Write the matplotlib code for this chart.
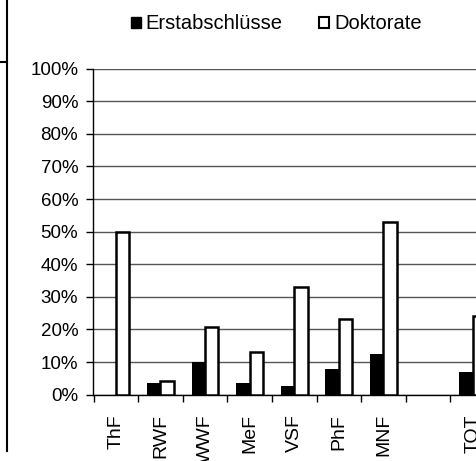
import matplotlib
matplotlib.use("Agg")
import matplotlib.pyplot as plt
import numpy as np
from matplotlib.lines import Line2D
from matplotlib.patches import Patch

plt.rcParams['font.family'] = ['Liberation Sans', 'DejaVu Sans']

# Daten (Anteil in %)
fakultaeten = ["ThF", "RWF", "WWF", "MeF", "VSF", "PhF", "MNF", "", "TOT"]
erstabschluesse = [0.0, 3.7, 10.0, 3.7, 2.6, 7.7, 12.4, np.nan, 6.8]
doktorate = [50.0, 4.3, 20.8, 13.2, 32.9, 23.1, 53.0, np.nan, 24.1]
serien = ["Erstabschlüsse", "Doktorate"]

W, H = 477, 461
fig = plt.figure(figsize=(W / 100, H / 100), dpi=100)

# Plotbereich (rechts abgeschnitten wie im Original)
ax = fig.add_axes([93.5 / W, 1 - 394.6 / H, 401.5 / W, 326 / H])

x = np.arange(len(fakultaeten))
w = 0.3
ax.bar(x - w / 2, erstabschluesse, w, color="black", lw=0, zorder=3)
ax.bar(x + w / 2, doktorate, w, color="white", edgecolor="black", lw=1.8, zorder=3)

ax.set_xlim(-0.5, len(fakultaeten) - 0.5)
ax.set_ylim(0, 100)
ax.set_yticks(range(0, 101, 10))
ax.set_yticklabels([f"{v}%" for v in range(0, 101, 10)], fontsize=13.5)
ax.tick_params(axis="y", direction="out", length=5, width=1, pad=6)

ax.set_xticks(x)
ax.set_xticklabels(fakultaeten, rotation=90, fontsize=14)
ax.tick_params(axis="x", which="major", length=0, pad=14)
ax.set_xticks(np.arange(-0.5, len(fakultaeten), 1), minor=True)
ax.tick_params(axis="x", which="minor", direction="out", length=5, width=1)

ax.yaxis.grid(True, color="#555555", lw=1)
ax.set_axisbelow(True)
for s in ["top", "right"]:
    ax.spines[s].set_visible(False)
ax.spines["left"].set_linewidth(1)
ax.spines["bottom"].set_linewidth(1)

handles = [Patch(facecolor="black", edgecolor="black"),
           Patch(facecolor="white", edgecolor="black", lw=1.5)]
fig.legend(handles, serien, loc="center", bbox_to_anchor=(0.579, 0.948),
           ncol=2, frameon=False, fontsize=14.5, handlelength=0.5,
           handleheight=0.5, handletextpad=0.25, columnspacing=1.8)

# Rahmenlinien links (Tabellenzelle)
fig.add_artist(Line2D([7.5 / W, 7.5 / W], [1, 1 - 451 / H], color="black", lw=1.5))
fig.add_artist(Line2D([0, 7.5 / W], [1 - 62 / H, 1 - 62 / H], color="black", lw=1.5))

fig.savefig("out.png", dpi=100)
